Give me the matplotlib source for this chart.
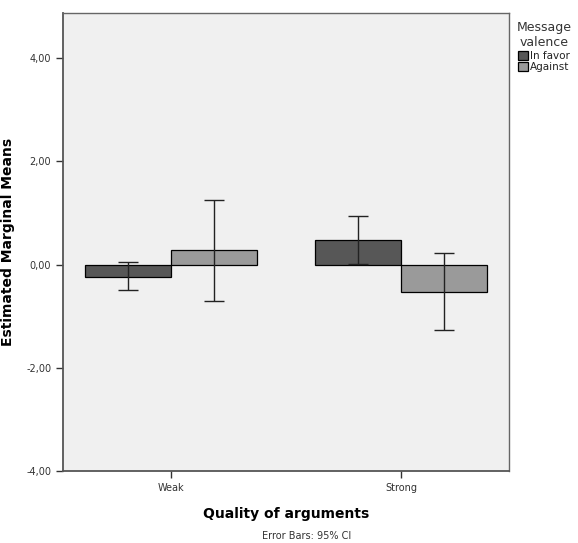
import numpy as np
import matplotlib
matplotlib.use('Agg')
import matplotlib.pyplot as plt

# values (SPSS estimated marginal means)
quality = ['Weak', 'Strong']
valence = ['In favor', 'Against']
means = {'In favor': [-0.24, 0.48], 'Against': [0.28, -0.53]}
ci_low = {'In favor': [-0.49, 0.02], 'Against': [-0.70, -1.27]}
ci_high = {'In favor': [0.05, 0.94], 'Against': [1.26, 0.22]}
colors = {'In favor': '#575757', 'Against': '#9a9a9a'}
yticks = [-4, -2, 0, 2, 4]
ytick_labels = ['-4,00', '-2,00', '0,00', '2,00', '4,00']

fig = plt.figure(figsize=(5.78, 5.43), dpi=100)
ax = fig.add_axes([0.109, 0.1326, 0.7716, 0.844])
ax.set_facecolor('#f0f0f0')

x = np.arange(len(quality))
w = 0.373
for k, v in enumerate(valence):
    xs = x + (k - 0.5) * w
    m = np.array(means[v])
    lo = m - np.array(ci_low[v])
    hi = np.array(ci_high[v]) - m
    ax.bar(xs, m, width=w, color=colors[v], edgecolor='black', linewidth=0.9,
           label=v, zorder=2)
    ax.errorbar(xs, m, yerr=[lo, hi], fmt='none', ecolor='#222222',
                elinewidth=1.0, capsize=7.5, capthick=1.0, zorder=3)

ax.set_xlim(-0.47, 1.47)
ax.set_ylim(-4, 4.88)
ax.set_xticks(x)
ax.set_xticklabels(quality, fontsize=7, color='#333333')
ax.set_yticks(yticks)
ax.set_yticklabels(ytick_labels, fontsize=7, color='#333333')
ax.tick_params(axis='both', direction='out', length=5, width=1, color='#333333')

for s in ['left', 'bottom']:
    ax.spines[s].set_color('#555555')
    ax.spines[s].set_linewidth(1.3)
for s in ['top', 'right']:
    ax.spines[s].set_color('#666666')
    ax.spines[s].set_linewidth(1.0)

ax.set_ylabel('Estimated Marginal Means', fontsize=10, fontweight='bold', labelpad=8)
ax.set_xlabel('Quality of arguments', fontsize=10, fontweight='bold', labelpad=10)

leg = ax.legend(title='Message\nvalence', loc='upper left', bbox_to_anchor=(1.003, 0.995),
                frameon=False, fontsize=7.5, title_fontsize=9, handlelength=0.9,
                handleheight=0.9, handletextpad=0.2, borderaxespad=0.2,
                labelspacing=0.15, alignment='center')
leg.get_title().set_color('#333333')
leg.get_title().set_multialignment('center')
for t in leg.get_texts():
    t.set_color('#222222')

fig.text(0.53, 0.003, 'Error Bars: 95% CI', fontsize=7, ha='center', va='bottom',
         color='#333333')

fig.savefig('out.png', dpi=100, facecolor='white')
